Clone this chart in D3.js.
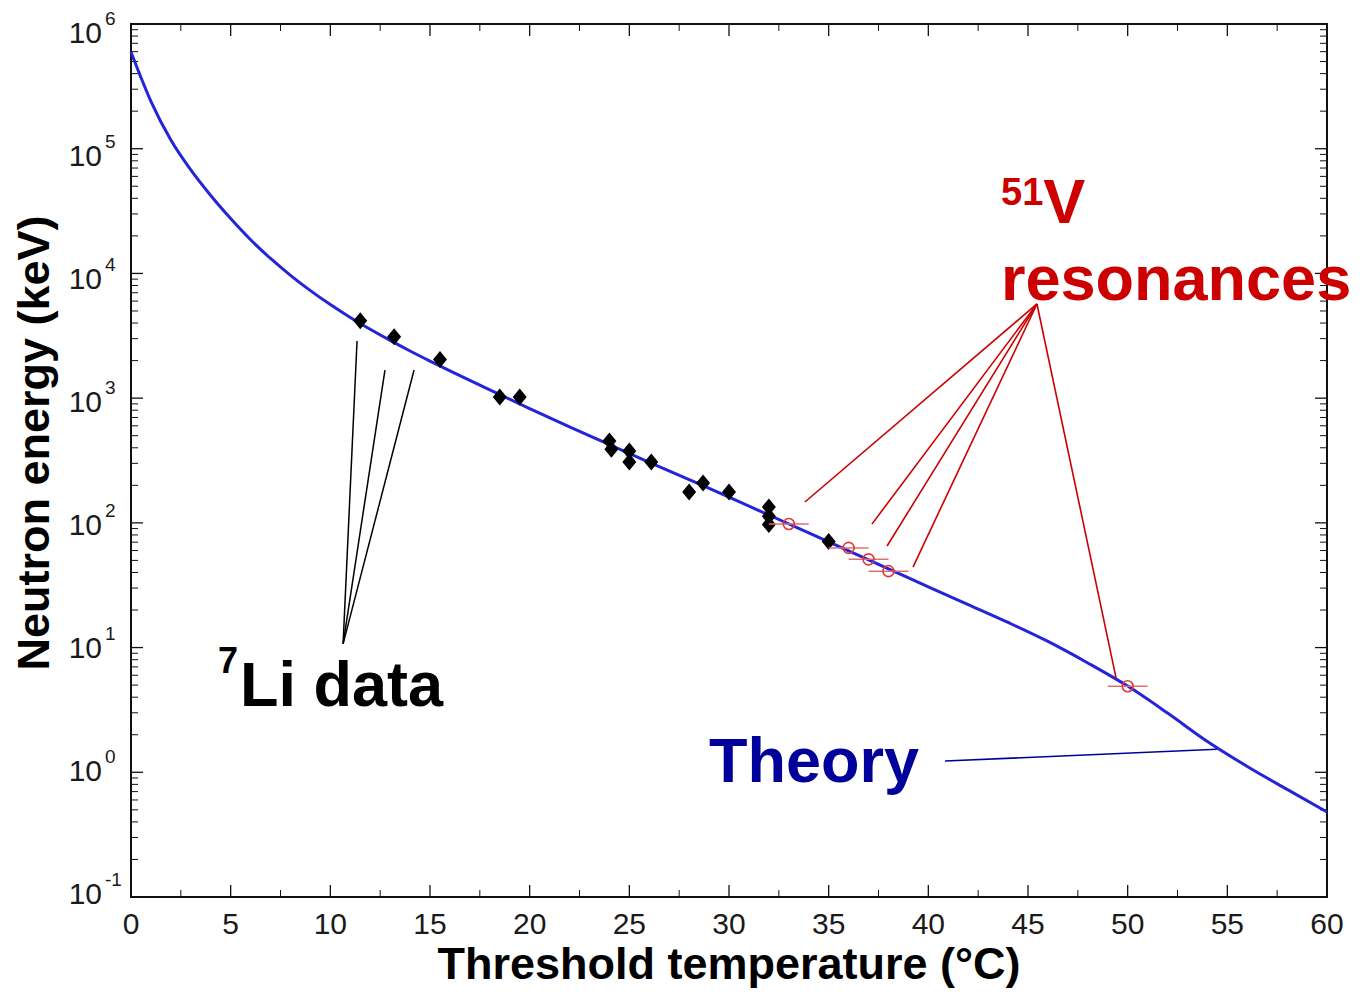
<!DOCTYPE html>
<html>
<head>
<meta charset="utf-8">
<script src="https://cdn.jsdelivr.net/npm/d3@7"></script>
<style>
  html, body { margin: 0; padding: 0; background: #fff; }
  svg { display: block; font-family: "Liberation Sans", Arial, Helvetica, sans-serif; }
</style>
</head>
<body>
<svg id="chart" width="1365" height="994"></svg>
<script>
// ---------- data ----------
const theoryT = [0, 1, 2, 3, 4, 5, 6, 7, 8, 9, 10, 11, 12, 13, 14, 15, 16, 18, 20, 22, 24, 26, 28, 30, 32, 34, 36, 38, 40, 42, 44, 46, 48, 50, 52, 54, 56, 58, 60];
const theoryE = [596000, 240000, 117500, 67600, 42170, 27540, 18620, 13180, 9661, 7278, 5623, 4436, 3565, 2904, 2388, 1982, 1656, 1164, 824, 589, 424, 306, 222, 161, 115.6, 83.0, 59.6, 42.8, 30.7, 22.1, 15.9, 11.2, 7.53, 4.91, 2.985, 1.766, 1.114, 0.729, 0.480];

const liT = [11.5, 13.2, 15.5, 18.5, 19.5, 24, 24.1, 25, 25, 26.1, 28, 28.7, 30, 32, 32, 32, 35];
const liE = [4170, 3100, 2040, 1020, 1020, 453, 390, 377, 307, 307, 177, 209, 177, 134, 113, 97, 71];

const resT = [33, 36, 37, 38, 50];
const resE = [98, 63, 51, 41, 4.9];
const resErr = [1, 1, 1, 1, 1];

const xTicks = [0, 5, 10, 15, 20, 25, 30, 35, 40, 45, 50, 55, 60];
const yExponents = [-1, 0, 1, 2, 3, 4, 5, 6];

// annotation leader lines (data units): [T, E]
const liLeaderFrom = [10.64, 10.7];
const liLeaderTo = [[11.34, 2870], [12.74, 1680], [14.2, 1680]];
const resLeaderFrom = [45.45, 5690];
const resLeaderTo = [[33.81, 147], [37.17, 97.7], [37.93, 65.2], [39.23, 44.2], [49.42, 5.69]];
const theoryLeader = [[40.84, 1.23], [54.48, 1.53]];

// ---------- layout ----------
const svg = d3.select("#chart");
const L = 131, R = 1327, T = 24, B = 897;
const x = d3.scaleLinear().domain([0, 60]).range([L, R]);
const y = d3.scaleLog().domain([0.1, 1e6]).range([B, T]);
const yLab = d3.scaleLog().domain([0.1, 1e6]).range([893, 32]);

// ---------- ticks ----------
const tickG = svg.append("g").attr("stroke", "#111").attr("stroke-width", 1.3);
const majLen = 12, minLen = 7;
yExponents.forEach(e => {
  const v = Math.pow(10, e);
  const yy = y(v);
  tickG.append("line").attr("x1", L).attr("x2", L + majLen).attr("y1", yy).attr("y2", yy);
  tickG.append("line").attr("x1", R).attr("x2", R - majLen).attr("y1", yy).attr("y2", yy);
  if (e < 6) {
    for (let m = 2; m <= 9; m++) {
      const ym = y(v * m);
      tickG.append("line").attr("x1", L).attr("x2", L + minLen).attr("y1", ym).attr("y2", ym).attr("stroke-width", 1);
      tickG.append("line").attr("x1", R).attr("x2", R - minLen).attr("y1", ym).attr("y2", ym).attr("stroke-width", 1);
    }
  }
});
xTicks.forEach(t => {
  const xx = x(t);
  tickG.append("line").attr("x1", xx).attr("x2", xx).attr("y1", B).attr("y2", B - majLen);
  tickG.append("line").attr("x1", xx).attr("x2", xx).attr("y1", T).attr("y2", T + majLen);
  if (t < 60) {
    const xm = x(t + 2.5);
    tickG.append("line").attr("x1", xm).attr("x2", xm).attr("y1", B).attr("y2", B - minLen).attr("stroke-width", 1);
    tickG.append("line").attr("x1", xm).attr("x2", xm).attr("y1", T).attr("y2", T + minLen).attr("stroke-width", 1);
  }
});

// frame
svg.append("rect").attr("x", L).attr("y", T).attr("width", R - L).attr("height", B - T)
  .attr("fill", "none").attr("stroke", "#111").attr("stroke-width", 2);

// tick labels
svg.append("g").selectAll("text").data(xTicks).join("text")
  .attr("x", d => x(d)).attr("y", 934)
  .attr("text-anchor", "middle").attr("font-size", 30).attr("fill", "#1a1a1a")
  .text(d => d);

svg.append("g").selectAll("text").data(yExponents).join("text")
  .attr("x", 102).attr("y", d => yLab(Math.pow(10, d)) + 11)
  .attr("text-anchor", "end").attr("font-size", 30).attr("fill", "#1a1a1a")
  .text("10");
svg.append("g").selectAll("text").data(yExponents).join("text")
  .attr("x", 105).attr("y", d => yLab(Math.pow(10, d)) - 7)
  .attr("text-anchor", "start").attr("font-size", 19).attr("fill", "#1a1a1a")
  .text(d => d);

// axis titles
svg.append("text").attr("x", 729).attr("y", 979).attr("text-anchor", "middle")
  .attr("font-size", 45).attr("font-weight", "bold").attr("fill", "#000")
  .text("Threshold temperature (°C)");
svg.append("text").attr("transform", "translate(49,443) rotate(-90)").attr("text-anchor", "middle")
  .attr("font-size", 45).attr("font-weight", "bold").attr("fill", "#000")
  .text("Neutron energy (keV)");

// ---------- theory curve ----------
const theory = theoryT.map((t, i) => [t, theoryE[i]]);
const line = d3.line().x(d => x(d[0])).y(d => y(d[1])).curve(d3.curveMonotoneX);
svg.append("path").datum(theory).attr("d", line)
  .attr("fill", "none").attr("stroke", "#2424d8").attr("stroke-width", 3);

// ---------- 7Li diamonds ----------
const diamond = (cx, cy) => `M${cx},${cy - 8.5}L${cx + 7},${cy}L${cx},${cy + 8.5}L${cx - 7},${cy}Z`;
svg.append("g").selectAll("path").data(liT.map((t, i) => [t, liE[i]])).join("path")
  .attr("d", d => diamond(x(d[0]), y(d[1]))).attr("fill", "#000");

// ---------- 51V resonances ----------
const res = resT.map((t, i) => [t, resE[i], resErr[i]]);
svg.append("g").selectAll("line").data(res).join("line")
  .attr("x1", d => x(d[0] - d[2])).attr("x2", d => x(d[0] + d[2]))
  .attr("y1", d => y(d[1])).attr("y2", d => y(d[1]))
  .attr("stroke", "#e07070").attr("stroke-width", 1.5);
svg.append("g").selectAll("circle").data(res).join("circle")
  .attr("cx", d => x(d[0])).attr("cy", d => y(d[1])).attr("r", 5.5)
  .attr("fill", "none").attr("stroke", "#e03a3a").attr("stroke-width", 1.6);

// ---------- annotations ----------
const ann = svg.append("g");
liLeaderTo.forEach(p => {
  ann.append("line").attr("x1", x(liLeaderFrom[0])).attr("y1", y(liLeaderFrom[1]))
    .attr("x2", x(p[0])).attr("y2", y(p[1])).attr("stroke", "#000").attr("stroke-width", 1.5);
});
resLeaderTo.forEach(p => {
  ann.append("line").attr("x1", x(resLeaderFrom[0])).attr("y1", y(resLeaderFrom[1]))
    .attr("x2", x(p[0])).attr("y2", y(p[1])).attr("stroke", "#cc0000").attr("stroke-width", 1.6);
});
ann.append("line").attr("x1", x(theoryLeader[0][0])).attr("y1", y(theoryLeader[0][1]))
  .attr("x2", x(theoryLeader[1][0])).attr("y2", y(theoryLeader[1][1]))
  .attr("stroke", "#00009a").attr("stroke-width", 1.6);

// labels
const li = svg.append("text").attr("x", 218).attr("y", 706).attr("font-weight", "bold").attr("fill", "#000");
li.append("tspan").attr("font-size", 36).attr("dy", -33).text("7");
li.append("tspan").attr("font-size", 63).attr("dy", 33).attr("dx", 2).text("Li data");

const v = svg.append("text").attr("x", 1001).attr("y", 223).attr("font-weight", "bold").attr("fill", "#cc0000");
v.append("tspan").attr("font-size", 38).attr("dy", -18).text("51");
v.append("tspan").attr("font-size", 63).attr("dy", 18).text("V");
svg.append("text").attr("x", 1001).attr("y", 300).attr("font-weight", "bold").attr("font-size", 63)
  .attr("fill", "#cc0000").text("resonances");

svg.append("text").attr("x", 709).attr("y", 782).attr("font-weight", "bold").attr("font-size", 63)
  .attr("fill", "#00009a").text("Theory");
</script>
</body>
</html>
